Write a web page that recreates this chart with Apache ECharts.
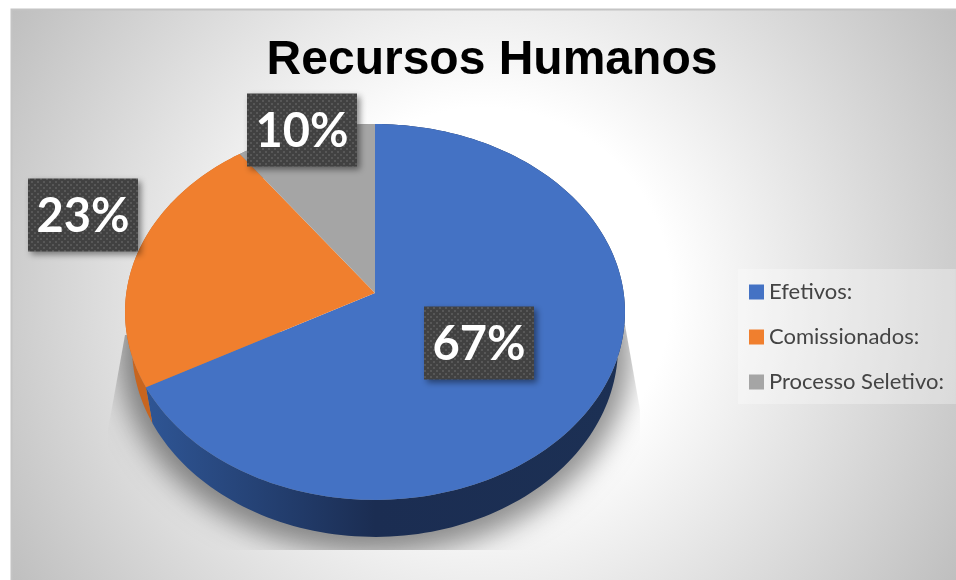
<!DOCTYPE html>
<html><head><meta charset="utf-8">
<style>html,body{margin:0;padding:0;background:#fff}#c{width:956px;height:580px}</style>
<script src="https://cdn.jsdelivr.net/npm/echarts@6/dist/echarts.min.js"></script>
</head><body><div id="c"></div>
<script>
const categories = ['Efetivos:', 'Comissionados:', 'Processo Seletivo:'];
const values = [67, 23, 10];
const colors = ['#4472C4', '#F07F2E', '#A5A5A5'];

const labelCenters = [[479, 343], [83, 215], [302, 130]];
const G = {cx: 375, cy: 293, a: 248.7, b: 186, k: 0.101, rimCy: 312, baseCy: 347, baseSx: 0.972, baseSy: 190 / 188};

function project(deg, r) {
  const t = deg * Math.PI / 180, u = r * Math.sin(t), v = r * Math.cos(t), d = 1 + G.k * v;
  return [G.cx + G.a * u / d, G.cy - G.b * v / d];
}
function base(p) {
  return [G.cx + (p[0] - G.cx) * G.baseSx, G.baseCy + (p[1] - G.rimCy) * G.baseSy];
}
function rim(a0, a1) {
  const pts = [], n = Math.max(2, Math.ceil((a1 - a0) / 1.5));
  for (let i = 0; i <= n; i++) pts.push(project(a0 + (a1 - a0) * i / n, 1));
  return pts;
}
const dots = document.createElement('canvas');
dots.width = 6; dots.height = 6;
(function () {
  const c = dots.getContext('2d');
  c.fillStyle = '#414141'; c.fillRect(0, 0, 6, 6);
  c.fillStyle = '#575757'; c.fillRect(1, 1, 2, 2); c.fillRect(4, 4, 2, 2);
})();
const wallFills = [
  {type: 'linear', x: 132, y: 0, x2: 618, y2: 0, global: true, colorStops: [
    {offset: 0, color: '#305899'}, {offset: 0.35, color: '#213a68'}, {offset: 0.5, color: '#1b2d52'}, {offset: 1, color: '#1c3054'}]},
  '#C8651F', '#7d7d7d'
];
const total = values.reduce((s, v) => s + v, 0);

function renderItem(params, api) {
  const idx = params.seriesIndex, val = api.value(0);
  let before = 0;
  for (let i = 0; i < idx; i++) before += values[i];
  const a0 = before / total * 360, a1 = (before + val) / total * 360;
  const top = rim(a0, a1);
  const children = [];
  if (idx === 0) {
    children.push({
      type: 'group',
      clipPath: {type: 'polygon', shape: {points: [[125, 335], [625, 325], [640, 410], [640, 550], [108, 550], [108, 430]]}},
      children: [{type: 'ellipse', z2: 0, shape: {cx: G.cx, cy: G.baseCy + 4 - 2000, rx: 256, ry: 203},
        style: {fill: '#000', shadowBlur: 28, shadowColor: 'rgba(0,0,0,0.44)', shadowOffsetY: 2000}}]
    });
  }
  children.push({type: 'polygon', z2: 1, shape: {points: top.concat(top.map(base).reverse())},
    style: {fill: wallFills[idx]}});
  children.push({type: 'polygon', z2: 2, shape: {points: [[G.cx, G.cy]].concat(top)},
    style: {fill: api.visual('color')}});
  const c = labelCenters[idx];
  children.push({type: 'rect', z2: 3, shape: {x: c[0] - 55, y: c[1] - 36.5, width: 110, height: 73},
    style: {fill: {image: dots, repeat: 'repeat'}, shadowBlur: 6, shadowOffsetX: 3, shadowOffsetY: 3, shadowColor: 'rgba(0,0,0,0.45)'}});
  children.push({type: 'text', z2: 4, style: {text: val + '%', x: c[0], y: c[1] + 2, fill: '#fff',
    font: 'bold 47px Lato', textAlign: 'center', textVerticalAlign: 'middle'}});
  return {type: 'group', children: children};
}

const chart = echarts.init(document.getElementById('c'), null, {renderer: 'canvas'});
chart.setOption({
  animation: false,
  backgroundColor: '#fff',
  title: {
    text: 'Recursos Humanos', left: 487, top: 32, textAlign: 'center',
    textStyle: {fontFamily: '"Liberation Sans"', fontWeight: 'bold', fontSize: 48, color: '#000'}
  },
  legend: {
    orient: 'vertical', left: 738, top: 269, data: categories, icon: 'rect',
    itemWidth: 15, itemHeight: 15, itemGap: 23, padding: [12, 12, 11, 11],
    backgroundColor: 'rgba(255,255,255,0.3)',
    textStyle: {fontFamily: 'Lato', fontSize: 22, color: '#444'},
    selectedMode: false
  },
  graphic: [{
    type: 'rect', z: 0, shape: {x: 11.5, y: 9.5, width: 960, height: 590},
    style: {
      fill: {type: 'radial', x: 484, y: 295, r: 551, global: true, colorStops: [
        {offset: 0, color: '#ffffff'}, {offset: 0.34, color: '#ffffff'}, {offset: 1, color: '#bfbfbf'}]},
      stroke: '#c4c4c4', lineWidth: 2
    }
  }],
  series: categories.map((name, i) => ({
    type: 'custom', name: name, coordinateSystem: 'none', renderItem: renderItem,
    itemStyle: {color: colors[i]}, silent: true, data: [[values[i]]]
  }))
});
</script></body></html>
